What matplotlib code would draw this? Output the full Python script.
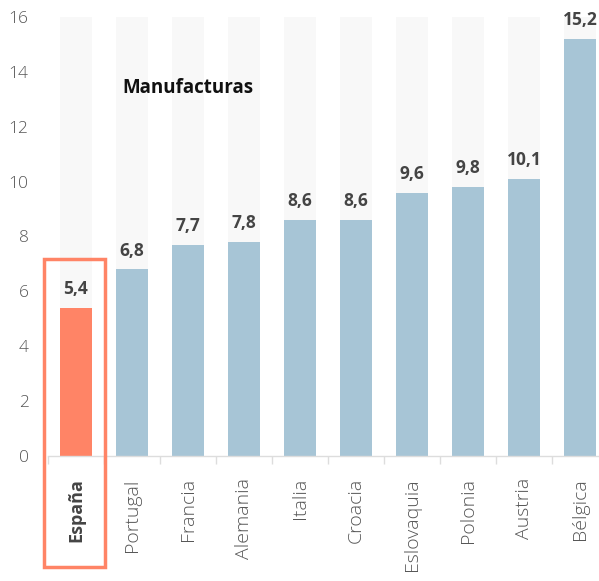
import matplotlib
matplotlib.use("Agg")
import matplotlib.pyplot as plt
from matplotlib.patches import Rectangle

categories = ["España", "Portugal", "Francia", "Alemania", "Italia", "Croacia",
              "Eslovaquia", "Polonia", "Austria", "Bélgica"]
values = [5.4, 6.8, 7.7, 7.8, 8.6, 8.6, 9.6, 9.8, 10.1, 15.2]
labels = ["5,4", "6,8", "7,7", "7,8", "8,6", "8,6", "9,6", "9,8", "10,1", "15,2"]
yticks = [0, 2, 4, 6, 8, 10, 12, 14, 16]
title = "Manufacturas"

plt.rcParams['font.family'] = ['Open Sans', 'DejaVu Sans']

W, H = 599, 581
fig = plt.figure(figsize=(W / 100, H / 100), dpi=100)
left, right, top, bottom = 48, 608, 17, 456
ax = fig.add_axes([left / W, (H - bottom) / H, (right - left) / W, (bottom - top) / H])

x = list(range(len(categories)))
bw = 0.57
ax.bar(x, [16] * len(x), width=bw, color="#f8f8f8", zorder=1)
colors = ["#ff8466"] + ["#a7c5d6"] * (len(x) - 1)
ax.bar(x, values, width=bw, color=colors, zorder=2)

for xi, v, lab in zip(x, values, labels):
    ax.annotate(lab, (xi, v), xytext=(0, 7), textcoords="offset points",
                ha="center", va="bottom", fontsize=12.5, fontweight="bold",
                color="#444444", zorder=3)

ax.set_xlim(-0.5, len(x) - 0.5)
ax.set_ylim(0, 16)
ax.set_yticks(yticks)
ax.set_yticklabels([str(t) for t in yticks], fontsize=12.5, color="#555555",
                   fontweight="light")
ax.tick_params(axis="y", length=0, pad=14)
ax.set_xticks(x)
ax.set_xticklabels(categories, rotation=90, fontsize=14, color="#555555",
                   fontweight="light")
ax.tick_params(axis="x", length=0, pad=16)
for lbl in ax.get_xticklabels():
    lbl.set_ha("center")
    lbl.set_va("top")
ax.get_xticklabels()[0].set_fontweight("bold")
ax.get_xticklabels()[0].set_fontsize(13)
ax.get_xticklabels()[0].set_color("#444444")

for s in ["top", "right", "left"]:
    ax.spines[s].set_visible(False)
ax.spines["bottom"].set_color("#dddddd")
ax.spines["bottom"].set_linewidth(1)

# minor ticks at category boundaries
ax.set_xticks([i - 0.5 for i in range(len(x) + 1)], minor=True)
ax.tick_params(axis="x", which="minor", length=6, color="#dddddd", width=1)

ax.text(2.0, 13.4, title, ha="center", va="center", fontsize=13.5,
        fontweight="bold", color="#111111")

# highlight box around España
bx0, bx1, by0, by1 = 44, 105, 259, 567
rect = Rectangle((bx0 / W, (H - by1) / H), (bx1 - bx0) / W, (by1 - by0) / H,
                 transform=fig.transFigure, fill=False, edgecolor="#ff8466",
                 linewidth=2.5, zorder=10)
fig.patches.append(rect)

fig.savefig("out.png", dpi=100)
